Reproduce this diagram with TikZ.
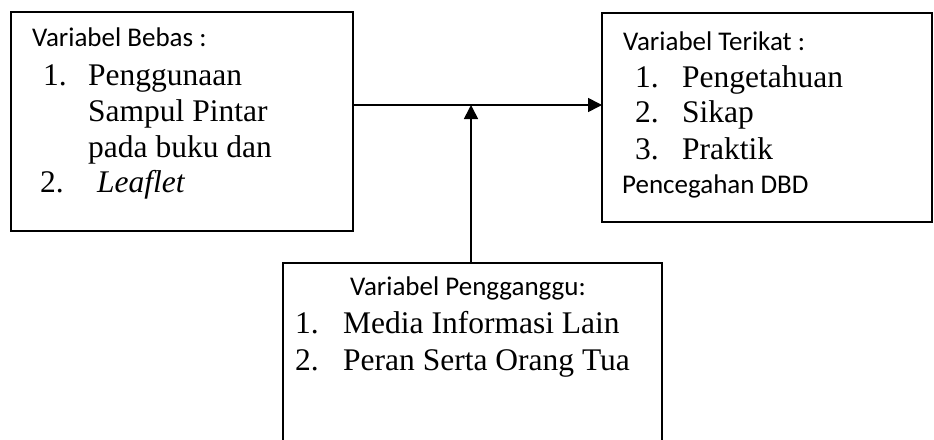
\documentclass[tikz,border=0pt]{standalone}
\usepackage{fontspec}
\setmainfont{Liberation Serif}
\newfontfamily\calib{Carlito}
\usetikzlibrary{arrows.meta}
\tikzset{
  box/.style={draw, line width=1.6pt, inner sep=0pt, outer sep=0pt, anchor=north west},
  arr/.style={line width=1.6pt, -{Triangle[length=14pt,width=14pt]}},
  lab/.style={font=\calib\fontsize{27}{32}\selectfont, anchor=base west, inner sep=0pt},
  itm/.style={font=\fontsize{31.5}{36}\selectfont, anchor=base west, inner sep=0pt},
}
\begin{document}
\begin{tikzpicture}[x=1pt,y=-1pt]
\useasboundingbox (0,0) rectangle (934,439);
\clip (0,0) rectangle (934,439);
% boxes
\node[box, minimum width=342pt, minimum height=219pt] (L) at (11,12) {};
\node[box, minimum width=330pt, minimum height=209pt] (R) at (602,13) {};
\node[box, minimum width=379pt, minimum height=220pt] (B) at (283,263) {};
% left texts
\node[lab] (l0) at (32,46) {Variabel Bebas :};
\node[itm] (l1n) at (43,85) {1.};
\node[itm] (l1) at (88,85) {Penggunaan};
\node[itm] (l1b) at (88,121) {Sampul Pintar};
\node[itm] (l1c) at (88,157) {pada buku dan};
\node[itm] (l2n) at (40,192) {2.};
\node[itm] (l2) at (97,192) {\itshape Leaflet};
% right texts
\node[lab] (r0) at (623,50) {Variabel Terikat :};
\node[itm] (r1n) at (635,87) {1.};
\node[itm] (r1) at (682,87) {Pengetahuan};
\node[itm] (r2n) at (635,122) {2.};
\node[itm] (r2) at (682,122) {Sikap};
\node[itm] (r3n) at (635,159) {3.};
\node[itm] (r3) at (682,159) {Praktik};
\node[lab] (r4) at (622,193) {Pencegahan DBD};
% bottom texts
\node[lab, anchor=base] (b0) at (468,295) {Variabel Pengganggu:};
\node[itm] (b1n) at (295,333) {1.};
\node[itm] (b1) at (343,333) {Media Informasi Lain};
\node[itm] (b2n) at (295,370) {2.};
\node[itm] (b2) at (343,370) {Peran Serta Orang Tua};
% connectors
\coordinate (J) at (471,105);
\draw[arr] (L.north east |- J) -- (R.north west |- J);
\draw[arr] (J |- B.north) -- (J);
\end{tikzpicture}
\end{document}
